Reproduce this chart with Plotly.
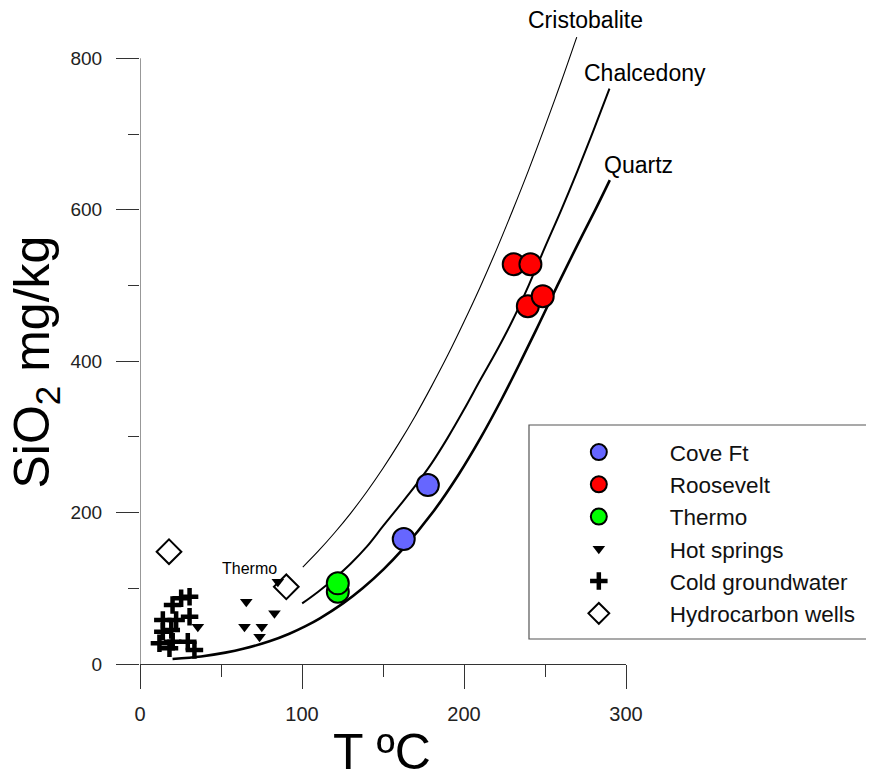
import plotly.graph_objects as go

# ---- Silica geothermometer curves (T in degC, SiO2 in mg/kg) ----
cristobalite_T = [100.5, 110, 120, 130, 140, 150, 160, 170, 180, 190, 200, 210, 220, 230, 240, 250, 260, 269.6]
cristobalite_C = [128.0, 149, 173, 199, 227.5, 258.5, 292, 328, 367, 408, 452, 498, 547, 599, 653, 710, 769, 828]

chalcedony_T = [100.1, 110, 120, 130, 140, 150, 160, 170, 180, 190, 200, 210, 220, 230, 240, 250, 260, 270, 280, 289.8]
chalcedony_C = [80.0, 95.5, 113, 132.5, 155, 182, 208.5, 235.5, 265, 299, 336, 375, 413, 454, 500.5, 550.5, 599.5, 651, 705, 760]

quartz_T = [20.1, 37.7, 52.7, 63.7, 79.9, 92.2, 102.2, 110.8, 125.3, 137.4, 150.3, 161.5, 180.6, 196.6,
            210.6, 223.3, 235.1, 246.5, 257.7, 269.2, 281.1, 290.0]
quartz_C = [6.6, 10, 15, 20, 30, 40, 50, 60, 80, 100, 125, 150, 200, 250,
            300, 350, 400, 450, 500, 550, 600, 639]

# ---- Samples ----
cove_T = [177.7, 162.8]
cove_C = [236.3, 165.0]

roosevelt_T = [230.7, 241.0, 239.4, 248.6]
roosevelt_C = [528.0, 528.0, 472.6, 485.8]

thermo_T = [122.1, 122.1]
thermo_C = [95.4, 106.5]

hot_T = [65.6, 83.0, 64.5, 75.2, 73.8, 35.7, 85.1]
hot_C = [82.2, 66.9, 49.2, 49.2, 36.0, 49.2, 108.6]

cold_T = [25.4, 30.6, 20.1, 14.1, 22.3, 30.6, 19.3, 14.1, 12.0, 20.2, 29.5, 18.2, 33.6]
cold_C = [86.7, 88.8, 77.9, 58.1, 58.1, 62.4, 44.9, 42.6, 27.3, 29.4, 29.4, 20.7, 18.5]

hydro_T = [17.9, 90.3]
hydro_C = [148.3, 102.0]

x_ticks = [0, 100, 200, 300]
y_ticks = [0, 200, 400, 600, 800]

FONT = "Liberation Sans, Arial, sans-serif"

fig = go.Figure()

for T, C, w in [(cristobalite_T, cristobalite_C, 1.1),
                (chalcedony_T, chalcedony_C, 2.0),
                (quartz_T, quartz_C, 2.6)]:
    fig.add_trace(go.Scatter(x=T, y=C, mode="lines",
                             line=dict(color="black", width=w, shape="spline", smoothing=1.0),
                             showlegend=False, hoverinfo="skip"))

fig.add_trace(go.Scatter(x=hydro_T, y=hydro_C, mode="markers", name="Hydrocarbon wells",
                         marker=dict(symbol="diamond", size=19, color="white",
                                     line=dict(color="black", width=2)),
                         legendrank=6))
fig.add_trace(go.Scatter(x=cold_T, y=cold_C, mode="markers", name="Cold groundwater",
                         marker=dict(symbol="cross-thin", size=12.5, color="black",
                                     line=dict(color="black", width=4.5)),
                         legendrank=5))
fig.add_trace(go.Scatter(x=hot_T, y=hot_C, mode="markers", name="Hot springs",
                         marker=dict(symbol="triangle-down", size=11, color="black",
                                     line=dict(width=0)),
                         legendrank=4))
fig.add_trace(go.Scatter(x=thermo_T, y=thermo_C, mode="markers", name="Thermo",
                         marker=dict(symbol="circle", size=22, color="#00ff00",
                                     line=dict(color="black", width=2)),
                         legendrank=3))
fig.add_trace(go.Scatter(x=cove_T, y=cove_C, mode="markers", name="Cove Ft",
                         marker=dict(symbol="circle", size=22, color="#6666ff",
                                     line=dict(color="black", width=2)),
                         legendrank=1))
fig.add_trace(go.Scatter(x=roosevelt_T, y=roosevelt_C, mode="markers", name="Roosevelt",
                         marker=dict(symbol="circle", size=22, color="#ff0000",
                                     line=dict(color="black", width=2)),
                         legendrank=2))

annotations = [
    dict(x=0.9167, y=1.0126, xref="paper", yref="paper", text="Cristobalite", showarrow=False,
         font=dict(size=23, color="black", family=FONT), xanchor="center", yanchor="middle"),
    dict(x=1.0397, y=0.9285, xref="paper", yref="paper", text="Chalcedony", showarrow=False,
         font=dict(size=23, color="black", family=FONT), xanchor="center", yanchor="middle"),
    dict(x=1.0257, y=0.7846, xref="paper", yref="paper", text="Quartz", showarrow=False,
         font=dict(size=23, color="black", family=FONT), xanchor="center", yanchor="middle"),
    dict(x=67.3, y=125.5, xref="x", yref="y", text="Thermo", showarrow=False,
         font=dict(size=16, color="black", family=FONT)),
    dict(x=0.498, y=-0.139, xref="paper", yref="paper", text="T ºC", showarrow=False,
         font=dict(size=50, color="black", family=FONT), yanchor="middle"),
    dict(x=-0.214, y=0.4756, xref="paper", yref="paper", text="SiO<sub>2</sub> mg/kg",
         showarrow=False, textangle=-90,
         font=dict(size=50, color="black", family=FONT), xanchor="center", yanchor="middle"),
]

shapes = [
    # y axis line (0 to 800)
    dict(type="line", xref="x", yref="y", x0=0, x1=0, y0=0, y1=800,
         line=dict(color="#333", width=1)),
    # legend frame
    dict(type="rect", xref="paper", yref="paper", x0=0.8004, x1=1.4979, y0=0.0393, y1=0.3758,
         line=dict(color="#555", width=1.2), fillcolor="rgba(0,0,0,0)"),
]

fig.update_layout(
    width=866, height=765,
    margin=dict(l=132, r=248, t=20, b=109, autoexpand=False),
    plot_bgcolor="white", paper_bgcolor="white",
    font=dict(family=FONT, color="#222"),
    showlegend=True,
    legend=dict(x=0.798, y=0.3664, xanchor="left", yanchor="top",
                font=dict(size=22.5, color="#111", family=FONT),
                bgcolor="rgba(0,0,0,0)", borderwidth=0, itemwidth=132),
    annotations=annotations,
    shapes=shapes,
    xaxis=dict(range=[0, 300], tickvals=x_ticks, ticks="outside", ticklen=24,
               tickcolor="#333", tickwidth=1, showline=True, linecolor="#333", linewidth=1,
               showgrid=False, zeroline=False, tickfont=dict(size=20, color="#222"),
               ticklabelstandoff=8,
               minor=dict(dtick=50, ticks="outside", ticklen=12, tickcolor="#333", tickwidth=1,
                          showgrid=False)),
    yaxis=dict(range=[0, 840], tickvals=y_ticks, ticks="outside", ticklen=23,
               tickcolor="#333", tickwidth=1, showline=False,
               showgrid=False, zeroline=False, tickfont=dict(size=19, color="#222"),
               ticklabelstandoff=10,
               minor=dict(tickvals=[100, 300, 500, 700], ticks="outside", ticklen=11,
                          tickcolor="#333", tickwidth=1, showgrid=False)),
)

fig.write_html("out.html")
